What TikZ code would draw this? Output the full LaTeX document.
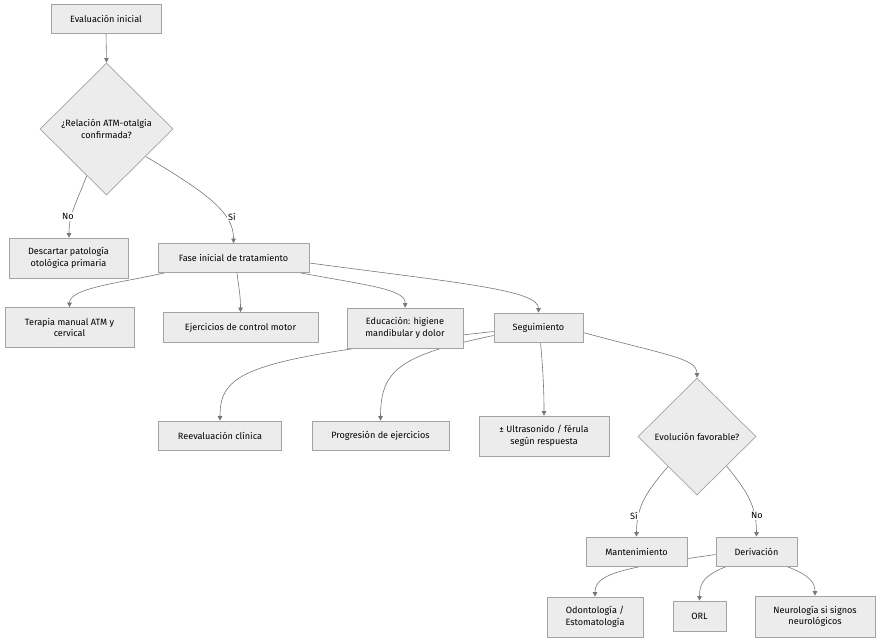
\documentclass[tikz,border=0pt]{standalone}
\usepackage{fontspec}
\setmainfont{Fira Sans}
\usetikzlibrary{shapes.geometric,arrows.meta,backgrounds}
\definecolor{boxfill}{HTML}{ECECEC}
\definecolor{boxline}{HTML}{A3A3A3}
\definecolor{edgecol}{HTML}{777777}
\tikzset{
  box/.style={draw=boxline, fill=boxfill, line width=0.7pt, inner sep=0pt, align=center, font=\fontsize{9.1}{11.5}\selectfont},
  decision/.style={draw=boxline, fill=boxfill, line width=0.7pt, shape=diamond, inner sep=0pt, align=center, font=\fontsize{9.1}{11.5}\selectfont},
  conn/.style={draw=edgecol, line width=0.6pt, -{Triangle[length=4.5pt,width=4.5pt]}},
  elabel/.style={fill=white, inner sep=1pt, font=\fontsize{9.1}{11}\selectfont}
}
\begin{document}
\begin{tikzpicture}[x=1pt,y=-1pt]
\useasboundingbox (0,0) rectangle (880,641);
% nodes
\node[box, minimum width=110pt, minimum height=29pt] (eval) at (106,18.5) {Evaluación inicial};
\node[decision, minimum width=133pt, minimum height=132pt] (dec1) at (106.5,129) {¿Relación ATM-otalgia\\confirmada?};
\node[box, minimum width=119pt, minimum height=40pt] (desc) at (68.5,258) {Descartar patología\\otológica primaria};
\node[box, minimum width=151pt, minimum height=29pt] (fase) at (233.5,258) {Fase inicial de tratamiento};
\node[box, minimum width=129pt, minimum height=40pt] (terapia) at (69.5,327.5) {Terapia manual ATM y\\cervical};
\node[box, minimum width=155pt, minimum height=30pt] (ejer) at (240.5,327.5) {Ejercicios de control motor};
\node[box, minimum width=116pt, minimum height=40pt] (edu) at (405,328) {Educación: higiene\\mandibular y dolor};
\node[box, minimum width=89pt, minimum height=29pt] (seg) at (538.5,327.5) {Seguimiento};
\node[box, minimum width=123pt, minimum height=29pt] (reev) at (220,435.5) {Reevaluación clínica};
\node[box, minimum width=137pt, minimum height=29pt] (prog) at (380.5,435.5) {Progresión de ejercicios};
\node[box, minimum width=130pt, minimum height=40pt] (ultra) at (544,436) {± Ultrasonido / férula\\según respuesta};
\node[decision, minimum width=118pt, minimum height=117pt] (dec2) at (697,436.5) {Evolución favorable?};
\node[box, minimum width=101pt, minimum height=29pt] (mant) at (636.5,551.5) {Mantenimiento};
\node[box, minimum width=81pt, minimum height=29pt] (deriv) at (756.5,551.5) {Derivación};
\node[box, minimum width=96pt, minimum height=40pt] (odon) at (595,617) {Odontología /\\Estomatología};
\node[box, minimum width=53pt, minimum height=30pt] (orl) at (699.5,616) {ORL};
\node[box, minimum width=120pt, minimum height=41pt] (neuro) at (815,616.5) {Neurología si signos\\neurológicos};
% edges
\begin{scope}[on background layer]
\draw[conn] (eval.south) -- (dec1.north);
\draw[conn] (dec1.-113) .. controls (76,204) and (69,214) .. (desc.north -| 69,0);
\draw[conn] (dec1.-35) .. controls (205,192) and (234,212) .. (fase.north);
\draw[conn] ([xshift=7pt]fase.south west) .. controls (120,283) and (69.5,288) .. (terapia.north);
\draw[conn] ([xshift=3.5pt]fase.south) .. controls (239,290) and (240.5,295) .. (ejer.north);
\draw[conn] ([xshift=-9pt]fase.south east) .. controls (365,285) and (406,289) .. (edu.north);
\draw[conn] ([yshift=-5pt]fase.east) .. controls (460,283) and (538.5,290) .. (seg.north);
\draw[conn] ([yshift=-4pt]seg.west) .. controls (250,358) and (220,370) .. (reev.north);
\draw[conn] ([yshift=-8pt]seg.west) .. controls (400,355) and (380.5,370) .. (prog.north);
\draw[conn] ([xshift=2pt]seg.south) .. controls (543,370) and (544,390) .. (ultra.north);
\draw[conn] ([yshift=-5pt]seg.east) .. controls (665,355) and (697,358) .. (dec2.north);
\draw[conn] (dec2.-134) .. controls (648,490) and (636.5,505) .. (mant.north);
\draw[conn] (dec2.-45) .. controls (746,490) and (756.5,505) .. (deriv.north);
\draw[conn] ([yshift=-3pt]deriv.west) .. controls (620,568) and (595,574) .. (odon.north);
\draw[conn] ([xshift=11pt]deriv.south west) .. controls (705,575) and (699.5,582) .. (orl.north);
\draw[conn] ([xshift=-11pt]deriv.south east) .. controls (810,575) and (815,583) .. (neuro.north);
\end{scope}
% edge labels
\node[elabel] (lno1) at (68,216.5) {No};
\node[elabel] (lsi1) at (232,216.5) {Sí};
\node[elabel] (lsi2) at (634,515.5) {Sí};
\node[elabel] (lno2) at (757,515.5) {No};
\end{tikzpicture}
\end{document}
